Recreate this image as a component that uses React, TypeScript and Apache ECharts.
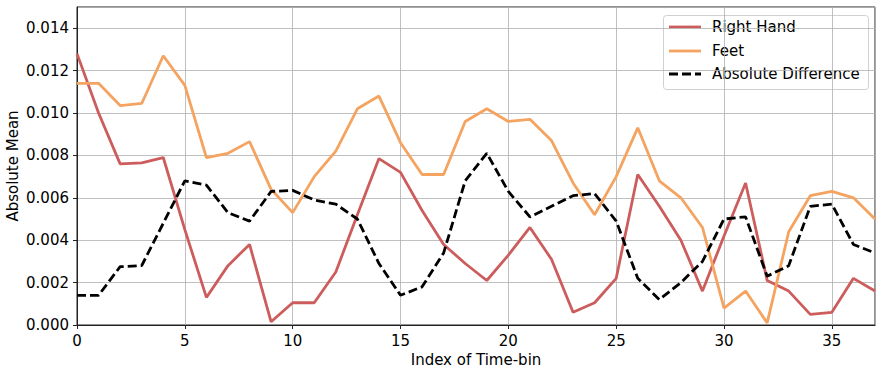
import React, { useEffect, useRef } from "react";
import * as echarts from "echarts";

const rightHand = [
  0.0128, 0.0100, 0.0076, 0.00765, 0.0079, 0.0045, 0.0013, 0.0028, 0.0038, 0.00015,
  0.00105, 0.00105, 0.0025, 0.0052, 0.00785, 0.0072, 0.0054, 0.0038, 0.0029, 0.0021,
  0.0033, 0.0046, 0.0031, 0.0006, 0.00105, 0.0022, 0.0071, 0.0056, 0.0040, 0.0016,
  0.0042, 0.0067, 0.0021, 0.0016, 0.0005, 0.0006, 0.0022, 0.0016,
];
const feet = [
  0.0114, 0.0114, 0.01035, 0.01045, 0.0127, 0.0113, 0.0079, 0.0081, 0.00865, 0.0064,
  0.0053, 0.0070, 0.0082, 0.0102, 0.0108, 0.0086, 0.0071, 0.0071, 0.0096, 0.0102,
  0.0096, 0.0097, 0.0087, 0.0067, 0.0052, 0.0070, 0.0093, 0.0068, 0.0060, 0.0046,
  0.0008, 0.0016, 0.0001, 0.0044, 0.0061, 0.0063, 0.0060, 0.0050,
];
const absDiff = [
  0.0014, 0.0014, 0.00275, 0.0028, 0.0048, 0.0068, 0.0066, 0.0053, 0.0049, 0.0063,
  0.00635, 0.0059, 0.0057, 0.0050, 0.0029, 0.0014, 0.0018, 0.0034, 0.0068, 0.0081,
  0.0063, 0.0051, 0.0056, 0.0061, 0.0062, 0.0049, 0.0022, 0.0012, 0.0020, 0.0030,
  0.0050, 0.0051, 0.0023, 0.0028, 0.0056, 0.0057, 0.0038, 0.0034,
];
const seriesNames = ["Right Hand", "Feet", "Absolute Difference"];
const colors = ["#cd5c5c", "#f4a460", "#000000"];

const FONT = "'DejaVu Sans', sans-serif";
const FS = 15;

export default function App() {
  const ref = useRef<HTMLDivElement>(null);
  useEffect(() => {
    if (!ref.current) return;
    const chart = echarts.init(ref.current, undefined, { renderer: "svg" });
    const toPairs = (arr: number[]) => arr.map((v, i) => [i, v]);
    const allData = [rightHand, feet, absDiff];
    const legendX = 663;
    const legendY = 15;
    const rowYs = [27, 51, 74];
    const legendChildren: any[] = [
      {
        type: "rect",
        shape: { x: legendX + 0.5, y: legendY + 0.5, width: 205, height: 74, r: 3 },
        style: { fill: "rgba(255,255,255,0.8)", stroke: "#d0d0d0", lineWidth: 1 },
      },
    ];
    seriesNames.forEach((name, i) => {
      legendChildren.push({
        type: "line",
        shape: { x1: 669, y1: rowYs[i], x2: 701, y2: rowYs[i] },
        style: {
          stroke: colors[i],
          lineWidth: 2.8,
          lineDash: i === 2 ? [9, 4] : null,
        },
      });
      legendChildren.push({
        type: "text",
        x: 712,
        y: rowYs[i],
        style: {
          text: name,
          fontFamily: FONT,
          fontSize: FS,
          fill: "#000",
          verticalAlign: "middle",
        },
      });
    });

    chart.setOption({
      animation: false,
      textStyle: { fontFamily: FONT },
      grid: {
        left: 77,
        right: 1,
        top: 7,
        bottom: 44,
        containLabel: false,
        outerBoundsMode: "none",
        show: true,
        borderColor: "#222",
        borderWidth: 1,
      },
      xAxis: {
        type: "value",
        min: 0,
        max: 37,
        interval: 5,
        name: "Index of Time-bin",
        nameLocation: "middle",
        nameGap: 27,
        nameMoveOverlap: false,
        nameTextStyle: { fontFamily: FONT, fontSize: FS, color: "#000" },
        axisLine: { show: true, lineStyle: { color: "#222", width: 1 } },
        axisTick: { show: true, length: 4, lineStyle: { color: "#222" } },
        axisLabel: {
          fontFamily: FONT,
          fontSize: FS,
          color: "#000",
          margin: 8,
          showMaxLabel: false,
        },
        splitLine: { show: true, lineStyle: { color: "#b0b0b0", width: 0.8 } },
      },
      yAxis: {
        type: "value",
        min: 0,
        max: 0.015,
        interval: 0.002,
        name: "Absolute Mean",
        nameLocation: "middle",
        nameGap: 57,
        nameMoveOverlap: false,
        nameTextStyle: { fontFamily: FONT, fontSize: FS, color: "#000" },
        axisLine: { show: true, lineStyle: { color: "#222", width: 1 } },
        axisTick: { show: true, length: 4, lineStyle: { color: "#222" } },
        axisLabel: {
          fontFamily: FONT,
          fontSize: FS,
          color: "#000",
          margin: 8,
          showMaxLabel: false,
          formatter: (v: number) => v.toFixed(3),
        },
        splitLine: { show: true, lineStyle: { color: "#b0b0b0", width: 0.8 } },
      },
      series: allData.map((arr, i) => ({
        name: seriesNames[i],
        type: "line",
        data: toPairs(arr),
        showSymbol: false,
        symbol: "none",
        lineStyle: {
          color: colors[i],
          width: 2.8,
          type: i === 2 ? [9, 4] : "solid",
        },
        itemStyle: { color: colors[i] },
        z: 3 + i,
      })),
      graphic: [{ type: "group", z: 100, children: legendChildren }],
    });
    return () => chart.dispose();
  }, []);
  return <div ref={ref} style={{ width: 876, height: 369, position: "absolute", left: 0, top: 0 }} />;
}
